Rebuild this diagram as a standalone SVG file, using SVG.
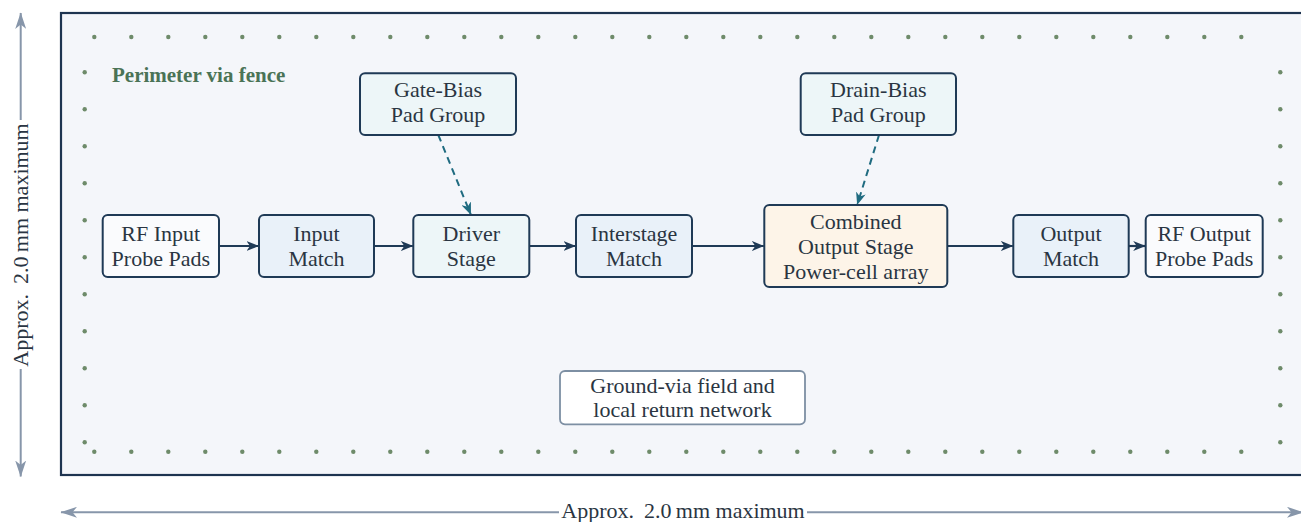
<svg xmlns="http://www.w3.org/2000/svg" width="1301" height="522" viewBox="0 0 1301 522">
<style>
.node rect{stroke:#1f3a56;stroke-width:2}
.t{font-family:"Liberation Serif","Times New Roman",serif;font-size:22px;fill:#2a3542;text-anchor:middle}
.via{fill:#6e8b6a}
.conn{stroke:#1f3a56;stroke-width:2.2;fill:none}
.bias{stroke:#1f6b80;stroke-width:2;fill:none;stroke-dasharray:7 5}
.dim{stroke:#8796aa;stroke-width:2;fill:none}
</style>
<defs>
<marker id="ad" markerUnits="userSpaceOnUse" markerWidth="13" markerHeight="10" refX="12" refY="5" orient="auto"><path d="M0,0 L12.5,5 L0,10 L3.5,5 Z" fill="#1f3a56"/></marker>
<marker id="at" markerUnits="userSpaceOnUse" markerWidth="13" markerHeight="10" refX="12" refY="5" orient="auto"><path d="M0,0 L12.5,5 L0,10 L3.5,5 Z" fill="#1f6b80"/></marker>
<marker id="ag" markerUnits="userSpaceOnUse" markerWidth="17" markerHeight="11" refX="16" refY="5.5" orient="auto-start-reverse"><path d="M0,0 L16.5,5.5 L0,11 L4.5,5.5 Z" fill="#8796aa"/></marker>
</defs>
<rect width="1301" height="522" fill="#ffffff"/>
<g id="board">
<rect x="61" y="13" width="1243" height="462" fill="#f4f6fa" stroke="#1e3450" stroke-width="2.2"/>
</g>
<g id="via-fence">
<circle class="via" cx="94.3" cy="37" r="2.2"/><circle class="via" cx="131.3" cy="37" r="2.2"/><circle class="via" cx="168.3" cy="37" r="2.2"/><circle class="via" cx="205.3" cy="37" r="2.2"/><circle class="via" cx="242.3" cy="37" r="2.2"/><circle class="via" cx="279.3" cy="37" r="2.2"/><circle class="via" cx="316.3" cy="37" r="2.2"/><circle class="via" cx="353.3" cy="37" r="2.2"/><circle class="via" cx="390.3" cy="37" r="2.2"/><circle class="via" cx="427.3" cy="37" r="2.2"/><circle class="via" cx="464.3" cy="37" r="2.2"/><circle class="via" cx="501.3" cy="37" r="2.2"/><circle class="via" cx="538.3" cy="37" r="2.2"/><circle class="via" cx="575.3" cy="37" r="2.2"/><circle class="via" cx="612.3" cy="37" r="2.2"/><circle class="via" cx="649.3" cy="37" r="2.2"/><circle class="via" cx="686.3" cy="37" r="2.2"/><circle class="via" cx="723.3" cy="37" r="2.2"/><circle class="via" cx="760.3" cy="37" r="2.2"/><circle class="via" cx="797.3" cy="37" r="2.2"/><circle class="via" cx="834.3" cy="37" r="2.2"/><circle class="via" cx="871.3" cy="37" r="2.2"/><circle class="via" cx="908.3" cy="37" r="2.2"/><circle class="via" cx="945.3" cy="37" r="2.2"/><circle class="via" cx="982.3" cy="37" r="2.2"/><circle class="via" cx="1019.3" cy="37" r="2.2"/><circle class="via" cx="1056.3" cy="37" r="2.2"/><circle class="via" cx="1093.3" cy="37" r="2.2"/><circle class="via" cx="1130.3" cy="37" r="2.2"/><circle class="via" cx="1167.3" cy="37" r="2.2"/><circle class="via" cx="1204.3" cy="37" r="2.2"/><circle class="via" cx="1241.3" cy="37" r="2.2"/>
<circle class="via" cx="94.3" cy="451.7" r="2.2"/><circle class="via" cx="131.3" cy="451.7" r="2.2"/><circle class="via" cx="168.3" cy="451.7" r="2.2"/><circle class="via" cx="205.3" cy="451.7" r="2.2"/><circle class="via" cx="242.3" cy="451.7" r="2.2"/><circle class="via" cx="279.3" cy="451.7" r="2.2"/><circle class="via" cx="316.3" cy="451.7" r="2.2"/><circle class="via" cx="353.3" cy="451.7" r="2.2"/><circle class="via" cx="390.3" cy="451.7" r="2.2"/><circle class="via" cx="427.3" cy="451.7" r="2.2"/><circle class="via" cx="464.3" cy="451.7" r="2.2"/><circle class="via" cx="501.3" cy="451.7" r="2.2"/><circle class="via" cx="538.3" cy="451.7" r="2.2"/><circle class="via" cx="575.3" cy="451.7" r="2.2"/><circle class="via" cx="612.3" cy="451.7" r="2.2"/><circle class="via" cx="649.3" cy="451.7" r="2.2"/><circle class="via" cx="686.3" cy="451.7" r="2.2"/><circle class="via" cx="723.3" cy="451.7" r="2.2"/><circle class="via" cx="760.3" cy="451.7" r="2.2"/><circle class="via" cx="797.3" cy="451.7" r="2.2"/><circle class="via" cx="834.3" cy="451.7" r="2.2"/><circle class="via" cx="871.3" cy="451.7" r="2.2"/><circle class="via" cx="908.3" cy="451.7" r="2.2"/><circle class="via" cx="945.3" cy="451.7" r="2.2"/><circle class="via" cx="982.3" cy="451.7" r="2.2"/><circle class="via" cx="1019.3" cy="451.7" r="2.2"/><circle class="via" cx="1056.3" cy="451.7" r="2.2"/><circle class="via" cx="1093.3" cy="451.7" r="2.2"/><circle class="via" cx="1130.3" cy="451.7" r="2.2"/><circle class="via" cx="1167.3" cy="451.7" r="2.2"/><circle class="via" cx="1204.3" cy="451.7" r="2.2"/><circle class="via" cx="1241.3" cy="451.7" r="2.2"/>
<circle class="via" cx="84.7" cy="72.3" r="2.2"/><circle class="via" cx="84.7" cy="109.3" r="2.2"/><circle class="via" cx="84.7" cy="146.3" r="2.2"/><circle class="via" cx="84.7" cy="183.3" r="2.2"/><circle class="via" cx="84.7" cy="220.3" r="2.2"/><circle class="via" cx="84.7" cy="257.3" r="2.2"/><circle class="via" cx="84.7" cy="294.3" r="2.2"/><circle class="via" cx="84.7" cy="331.3" r="2.2"/><circle class="via" cx="84.7" cy="368.3" r="2.2"/><circle class="via" cx="84.7" cy="405.3" r="2.2"/><circle class="via" cx="84.7" cy="442.3" r="2.2"/>
<circle class="via" cx="1280.3" cy="72.3" r="2.2"/><circle class="via" cx="1280.3" cy="109.3" r="2.2"/><circle class="via" cx="1280.3" cy="146.3" r="2.2"/><circle class="via" cx="1280.3" cy="183.3" r="2.2"/><circle class="via" cx="1280.3" cy="220.3" r="2.2"/><circle class="via" cx="1280.3" cy="257.3" r="2.2"/><circle class="via" cx="1280.3" cy="294.3" r="2.2"/><circle class="via" cx="1280.3" cy="331.3" r="2.2"/><circle class="via" cx="1280.3" cy="368.3" r="2.2"/><circle class="via" cx="1280.3" cy="405.3" r="2.2"/><circle class="via" cx="1280.3" cy="442.3" r="2.2"/>
<text x="112" y="82" style="font-family:'Liberation Serif','Times New Roman',serif;font-size:21px;font-weight:bold;fill:#4a7356">Perimeter via fence</text>
</g>
<g id="connectors">
<line class="conn" x1="219" y1="246" x2="258.5" y2="246" marker-end="url(#ad)"/>
<line class="conn" x1="374" y1="246" x2="412.8" y2="246" marker-end="url(#ad)"/>
<line class="conn" x1="529.3" y1="246" x2="575.5" y2="246" marker-end="url(#ad)"/>
<line class="conn" x1="692" y1="246" x2="763.8" y2="246" marker-end="url(#ad)"/>
<line class="conn" x1="947.3" y1="246" x2="1012.8" y2="246" marker-end="url(#ad)"/>
<line class="conn" x1="1128.7" y1="246" x2="1145.2" y2="246" marker-end="url(#ad)"/>
<line class="bias" x1="438.3" y1="135" x2="470.8" y2="214.5" marker-end="url(#at)"/>
<line class="bias" x1="879" y1="135" x2="857.3" y2="204.5" marker-end="url(#at)"/>
</g>
<g id="rf-in" class="node"><rect x="102.7" y="215" width="116.3" height="62" rx="5" fill="#fafbfd"/><text class="t" x="160.8" y="241">RF Input</text><text class="t" x="160.8" y="266">Probe Pads</text></g>
<g id="input-match" class="node"><rect x="259" y="215" width="115" height="62" rx="5" fill="#e9f1f9"/><text class="t" x="316.5" y="241">Input</text><text class="t" x="316.5" y="266">Match</text></g>
<g id="driver" class="node"><rect x="413.3" y="215" width="116" height="62" rx="5" fill="#edf6f8"/><text class="t" x="471.3" y="241">Driver</text><text class="t" x="471.3" y="266">Stage</text></g>
<g id="interstage" class="node"><rect x="576" y="215" width="116" height="62" rx="5" fill="#e9f1f9"/><text class="t" x="634" y="241">Interstage</text><text class="t" x="634" y="266">Match</text></g>
<g id="output-stage" class="node"><rect x="764.3" y="205" width="183" height="82" rx="5" fill="#fdf4e8"/><text class="t" x="855.8" y="228.5">Combined</text><text class="t" x="855.8" y="254">Output Stage</text><text class="t" x="855.8" y="279">Power-cell array</text></g>
<g id="output-match" class="node"><rect x="1013.3" y="215" width="115.4" height="62" rx="5" fill="#e9f1f9"/><text class="t" x="1071" y="241">Output</text><text class="t" x="1071" y="266">Match</text></g>
<g id="rf-out" class="node"><rect x="1145.7" y="215" width="117" height="62" rx="5" fill="#fafbfd"/><text class="t" x="1204.2" y="241">RF Output</text><text class="t" x="1204.2" y="266">Probe Pads</text></g>
<g id="gate-bias" class="node"><rect x="360" y="73.3" width="156" height="61.7" rx="5" fill="#edf6f8"/><text class="t" x="438" y="97">Gate-Bias</text><text class="t" x="438" y="122">Pad Group</text></g>
<g id="drain-bias" class="node"><rect x="800.7" y="73.3" width="155.3" height="61.7" rx="5" fill="#edf6f8"/><text class="t" x="878.3" y="97">Drain-Bias</text><text class="t" x="878.3" y="122">Pad Group</text></g>
<g id="ground"><rect x="560" y="371" width="245" height="53.3" rx="5" fill="#ffffff" stroke="#7d8fa3" stroke-width="1.8"/><text class="t" x="682.5" y="393">Ground-via field and</text><text class="t" x="682.5" y="417">local return network</text></g>
<g id="dimensions">
<line class="dim" x1="61" y1="512.3" x2="559" y2="512.3" marker-start="url(#ag)"/>
<line class="dim" x1="807" y1="512.3" x2="1303" y2="512.3" marker-end="url(#ag)"/>
<text class="t" x="683" y="518">Approx.&#8201; 2.0&#8201;mm maximum</text>
<line class="dim" x1="20.7" y1="13" x2="20.7" y2="120" marker-start="url(#ag)"/>
<line class="dim" x1="20.7" y1="369" x2="20.7" y2="476.5" marker-end="url(#ag)"/>
<text class="t" transform="translate(27.5,245) rotate(-90)">Approx.&#8201; 2.0&#8201;mm maximum</text>
</g>
</svg>
